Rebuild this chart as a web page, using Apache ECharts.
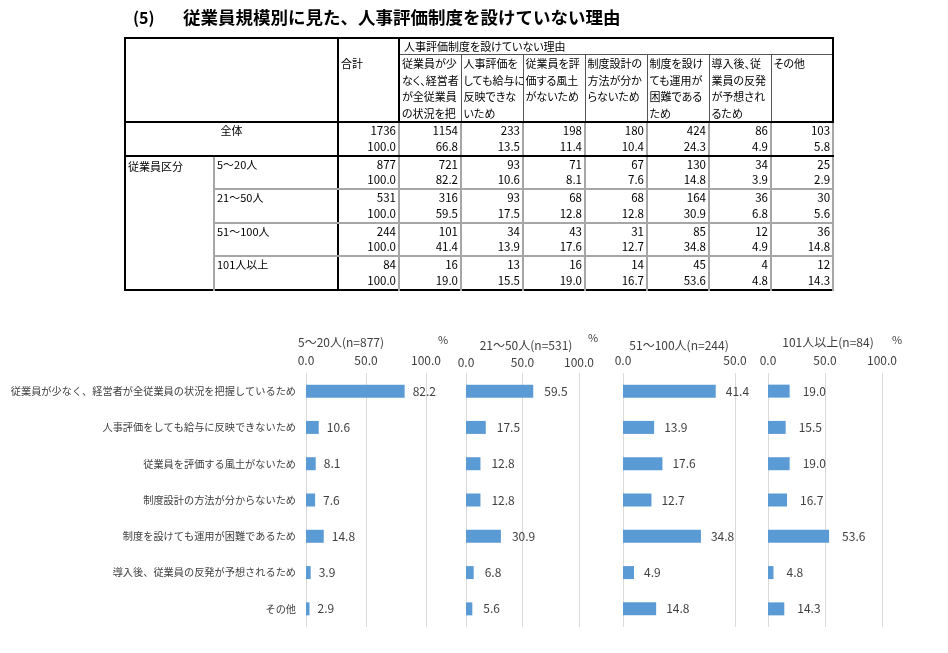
<!DOCTYPE html>
<html>
<head>
<meta charset="utf-8">
<script src="https://cdn.jsdelivr.net/npm/echarts@6/dist/echarts.min.js"></script>
<style>
  html, body { margin: 0; padding: 0; background: #fff; }
  #chart { position: absolute; left: 0; top: 0; width: 948px; height: 653px; }
  #title { position: absolute; left: 133px; top: 4px; font-family: 'Noto Sans CJK JP'; font-weight: bold; font-size: 17.5px; color: #000; white-space: nowrap; z-index: 2; }
  #title .no { display: inline-block; width: 50px; font-size: 16px; }
  #tbl { position: absolute; left: 124px; top: 37px; z-index: 2; border-collapse: collapse; table-layout: fixed; width: 708px;
         font-family: 'Noto Sans CJK JP'; font-size: 11px; color: #000; border: 2px solid #000; }
  #tbl td { padding: 0 2px; vertical-align: top; overflow: hidden; white-space: nowrap; }
  #tbl .h1 td { height: 15px; line-height: 15px; }
  #tbl .hd { border: 1px solid #555; font-feature-settings: "palt"; }
  #tbl .hd div { line-height: 16.5px; }
  #tbl .hcell { height: 64px; }
  #tbl .sum { border-left: 2px solid #000; border-right: 2px solid #000; }
  #tbl .hb { border-bottom: 2px solid #000; }
  #tbl .num { text-align: right; border-left: 2px solid #a6a6a6; border-right: 2px solid #a6a6a6; font-size: 11.5px; }
  #tbl .num div, #tbl .lab div { line-height: 15.75px; }
  #tbl .all td { border-bottom: 2px solid #000; }
  #tbl .grp td { border-bottom: 2px solid #a6a6a6; }
  #tbl .lab { border-right: 2px solid #000; }
  #tbl .cls { border-right: 2px solid #a6a6a6; line-height: 16px; padding-top: 1px; }
</style>
</head>
<body>
<div id="chart"></div>
<div id="title"><span class="no">(5)</span>従業員規模別に見た、人事評価制度を設けていない理由</div>
<table id="tbl"></table>
<script>
// 理由（グラフの項目）
var categories = [
  '従業員が少なく、経営者が全従業員の状況を把握しているため',
  '人事評価をしても給与に反映できないため',
  '従業員を評価する風土がないため',
  '制度設計の方法が分からないため',
  '制度を設けても運用が困難であるため',
  '導入後、従業員の反発が予想されるため',
  'その他'
];
// 表の見出し（セル内の改行どおり）
var headerLines = [
  ['従業員が少', 'なく、経営者', 'が全従業員', 'の状況を把'],
  ['人事評価を', 'しても給与に', '反映できな', 'いため'],
  ['従業員を評', '価する風土', 'がないため'],
  ['制度設計の', '方法が分か', 'らないため'],
  ['制度を設け', 'ても運用が', '困難である', 'ため'],
  ['導入後、従', '業員の反発', 'が予想され', 'るため'],
  ['その他']
];
var groups = ['5〜20人', '21〜50人', '51〜100人', '101人以上'];
var groupN = [877, 531, 244, 84];

var totalAll = 1736;
var countAll = [1154, 233, 198, 180, 424, 86, 103];
var pctAll = [66.8, 13.5, 11.4, 10.4, 24.3, 4.9, 5.8];

var count_5_20 = [721, 93, 71, 67, 130, 34, 25];
var count_21_50 = [316, 93, 68, 68, 164, 36, 30];
var count_51_100 = [101, 34, 43, 31, 85, 12, 36];
var count_101 = [16, 13, 16, 14, 45, 4, 12];

var pct_5_20 = [82.2, 10.6, 8.1, 7.6, 14.8, 3.9, 2.9];
var pct_21_50 = [59.5, 17.5, 12.8, 12.8, 30.9, 6.8, 5.6];
var pct_51_100 = [41.4, 13.9, 17.6, 12.7, 34.8, 4.9, 14.8];
var pct_101 = [19.0, 15.5, 19.0, 16.7, 53.6, 4.8, 14.3];

var axisMax = [100, 100, 50, 100];
var axisTicks = ['0.0', '50.0', '100.0'];

var groupCounts = [count_5_20, count_21_50, count_51_100, count_101];
var groupPcts = [pct_5_20, pct_21_50, pct_51_100, pct_101];

// ---- 表 ----
function two(a, b) { return '<div>' + a + '</div><div>' + b + '</div>'; }
function numCells(counts, pcts) {
  var s = '';
  for (var i = 0; i < counts.length; i++) {
    s += '<td class="num">' + two(counts[i], pcts[i].toFixed(1)) + '</td>';
  }
  return s;
}
var html = '<colgroup><col style="width:89px"><col style="width:124px"><col style="width:61px">';
for (var c = 0; c < 7; c++) html += '<col style="width:62px">';
html += '</colgroup>';
html += '<tr class="h1"><td colspan="2" rowspan="2" class="hb" style="border-right:2px solid #000"></td>' +
        '<td rowspan="2" class="sum hb" style="padding-top:17px">合計</td>' +
        '<td colspan="7" class="hd" style="padding-left:4px">人事評価制度を設けていない理由</td></tr>';
html += '<tr>';
headerLines.forEach(function (lines) {
  html += '<td class="hd hb hcell">' + lines.map(function (l) { return '<div>' + l + '</div>'; }).join('') + '</td>';
});
html += '</tr>';
html += '<tr class="all"><td colspan="2" class="lab" style="text-align:center"><div>全体</div></td>' +
        '<td class="num sum">' + two(totalAll, '100.0') + '</td>' + numCells(countAll, pctAll) + '</tr>';
groups.forEach(function (g, i) {
  html += '<tr class="' + (i < groups.length - 1 ? 'grp' : '') + '">';
  if (i === 0) html += '<td rowspan="4" class="cls" style="border-bottom:none">従業員区分</td>';
  html += '<td class="lab"><div>' + g + '</div></td>' +
          '<td class="num sum">' + two(groupN[i], '100.0') + '</td>' + numCells(groupCounts[i], groupPcts[i]) + '</tr>';
});
document.getElementById('tbl').innerHTML = html;

// ---- グラフ ----
var chart = echarts.init(document.getElementById('chart'));
var panels = [
  { left: 306, width: 120, cx: 341, ty: 342, px: 443, py: 340, margin: 7, dist: 8 },
  { left: 466, width: 113, cx: 526, ty: 345, px: 593, py: 338, margin: 5, dist: 11 },
  { left: 623, width: 112, cx: 679, ty: 345, px: null, py: null, margin: 7, dist: 10 },
  { left: 768, width: 114, cx: 828, ty: 342, px: 897, py: 340, margin: 7, dist: 13 }
];
var textColor = '#404040';
var font = 'Noto Sans CJK JP';

var grids = [], xAxes = [], yAxes = [], series = [], graphics = [];
panels.forEach(function (p, i) {
  grids.push({ left: p.left, width: p.width, top: 373, height: 254 });
  xAxes.push({
    type: 'value', gridIndex: i, position: 'top', min: 0, max: axisMax[i], interval: 50,
    axisLine: { show: false }, axisTick: { show: false },
    splitLine: { show: true, lineStyle: { color: '#d9d9d9', width: 1 } },
    axisLabel: { color: textColor, fontSize: 12, fontFamily: font, margin: p.margin,
      formatter: function (v) { return axisTicks[v / 50]; } }
  });
  yAxes.push({
    type: 'category', gridIndex: i, data: categories, inverse: true,
    axisLine: { show: false }, axisTick: { show: false },
    axisLabel: { show: i === 0, color: textColor, fontSize: 10.2, fontFamily: font, margin: 10 }
  });
  series.push({
    type: 'bar', xAxisIndex: i, yAxisIndex: i, data: groupPcts[i], barWidth: 13,
    itemStyle: { color: '#5b9bd5' },
    label: { show: true, position: 'right', distance: p.dist, color: textColor, fontSize: 12, fontFamily: font,
      formatter: function (d) { return d.value.toFixed(1); } },
    animation: false
  });
  graphics.push({
    type: 'text', x: p.cx, y: p.ty,
    style: { text: groups[i] + '(n=' + groupN[i] + ')', fill: textColor, fontSize: 12, fontFamily: font,
      textAlign: 'center', textVerticalAlign: 'middle' }
  });
  if (p.px !== null) {
    graphics.push({
      type: 'text', x: p.px, y: p.py,
      style: { text: '%', fill: textColor, fontSize: 11, fontFamily: font, textAlign: 'center', textVerticalAlign: 'middle' }
    });
  }
});

chart.setOption({
  animation: false,
  grid: grids,
  xAxis: xAxes,
  yAxis: yAxes,
  series: series,
  graphic: graphics
});
</script>
</body>
</html>
